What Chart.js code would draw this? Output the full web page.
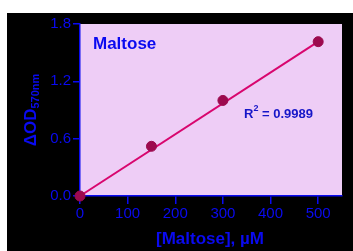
<!DOCTYPE html>
<html>
<head>
<meta charset="utf-8">
<script src="https://cdn.jsdelivr.net/npm/chart.js@4/dist/chart.umd.min.js"></script>
<style>
  body { margin: 0; background: #fff; }
  #box { position: absolute; left: 7px; top: 13px; width: 346px; height: 238px; background: #000; }
</style>
</head>
<body>
<div id="box"><canvas id="chart"></canvas></div>
<script>
// measured points
const conc = [0, 150, 300, 500];
const od = [0.0, 0.52, 1.0, 1.615];
// fitted line ends
const fitX = [0, 500];
const fitY = [0.0, 1.615];

const xTicks = [0, 100, 200, 300, 400, 500];
const yTicks = [0.0, 0.6, 1.2, 1.8];

const blue = "#0a0af0";
const font = "'Liberation Sans', Arial, sans-serif";

//pink plot area + all the extra texts
const deco = {
  id: "deco",
  beforeDraw(chart) {
    const a = chart.chartArea;
    const ctx = chart.ctx;
    ctx.save();
    ctx.fillStyle = "#eecdf6";
    ctx.fillRect(a.left, a.top, a.right - a.left, a.bottom - a.top);
    ctx.restore();
  },
  afterDraw(chart) {
    const ctx = chart.ctx;
    ctx.save();
    ctx.fillStyle = blue;
    ctx.textBaseline = "middle";

    ctx.font = "bold 17px " + font;
    ctx.fillText("Maltose", 86, 31);

    // R2 label
    ctx.fillStyle = "#1515c8";
    ctx.font = "bold 13px " + font;
    ctx.fillText("R", 237, 101);
    let w = ctx.measureText("R").width;
    ctx.font = "bold 9px " + font;
    ctx.fillText("2", 237 + w, 96);
    let w2 = ctx.measureText("2").width;
    ctx.font = "bold 13px " + font;
    ctx.fillText(" = 0.9989", 237 + w + w2, 101);

    // x axis title
    ctx.fillStyle = blue;
    ctx.font = "bold 17px " + font;
    ctx.textAlign = "center";
    ctx.fillText("[Maltose], µM", 203, 226);

    // y axis title, rotated
    ctx.translate(24, 97);
    ctx.rotate(-Math.PI / 2);
    ctx.textAlign = "left";
    const t1 = "ΔOD";
    ctx.font = "bold 11px " + font;
    const t2 = "570nm";
    const sw = ctx.measureText(t2).width;
    ctx.font = "bold 17px " + font;
    const mw = ctx.measureText(t1).width;
    const start = -(mw + sw) / 2;
    ctx.fillText(t1, start, 0);
    ctx.font = "bold 11px " + font;
    ctx.fillText(t2, start + mw, 5);
    ctx.restore();
  },
};

new Chart(document.getElementById("chart"), {
  type: "scatter",
  data: {
    datasets: [
      {
        data: conc.map((c, i) => ({ x: c, y: od[i] })),
        backgroundColor: "#9c0a4e",
        borderColor: "#9c0a4e",
        pointRadius: 5,
        pointHoverRadius: 5,
        clip: false,
        order: 0,
      },
      {
        data: fitX.map((c, i) => ({ x: c, y: fitY[i] })),
        showLine: true,
        borderColor: "#d8066e",
        borderWidth: 2,
        pointRadius: 0,
        clip: false,
        order: 1,
      },
    ],
  },
  plugins: [deco],
  options: {
    responsive: true,
    maintainAspectRatio: false,
    animation: false,
    layout: { padding: { top: 9, right: 11, left: 0, bottom: 0 } },
    plugins: { legend: { display: false }, tooltip: { enabled: false } },
    scales: {
      x: {
        type: "linear",
        min: 0,
        max: 550,
        afterBuildTicks: (s) => { s.ticks = xTicks.map((v) => ({ value: v })); },
        afterFit: (s) => { s.height = 55; },
        ticks: {
          color: blue,
          font: { family: font, size: 15 },
          maxRotation: 0,
          padding: 1,
          callback: (v) => String(v),
        },
        grid: { drawOnChartArea: false, color: blue, tickLength: 8, lineWidth: 1.5 },
        border: { color: blue, width: 1.5 },
      },
      y: {
        min: 0,
        max: 1.8,
        afterBuildTicks: (s) => { s.ticks = yTicks.map((v) => ({ value: v })); },
        afterFit: (s) => { s.width = 73; },
        ticks: {
          color: blue,
          font: { family: font, size: 15 },
          padding: 2,
          callback: (v) => Number(v).toFixed(1),
        },
        grid: { drawOnChartArea: false, color: blue, tickLength: 7, lineWidth: 1.5 },
        border: { color: blue, width: 1.5 },
      },
    },
  },
});
</script>
</body>
</html>
